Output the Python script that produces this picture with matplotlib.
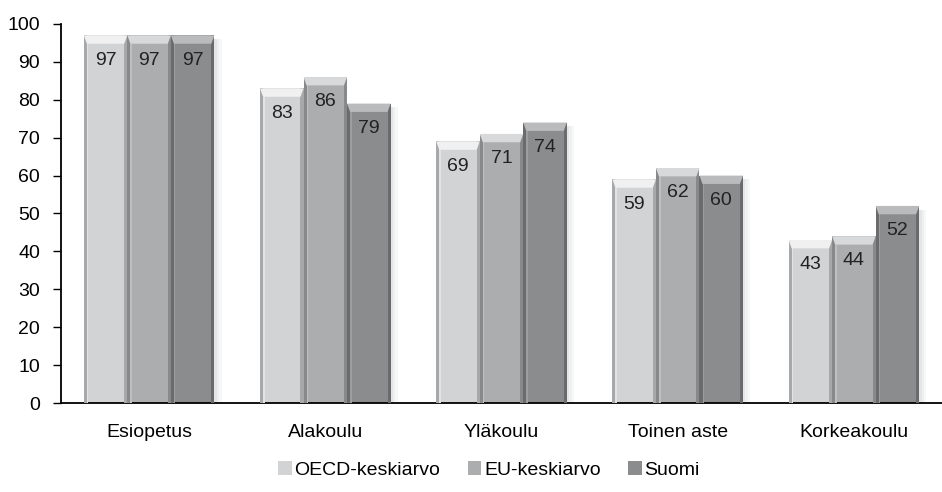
import matplotlib
matplotlib.use("Agg")
import matplotlib.pyplot as plt
from matplotlib.patches import Polygon, Rectangle
import numpy as np

plt.rcParams['font.family'] = ['Liberation Sans', 'DejaVu Sans']

categories = ["Esiopetus", "Alakoulu", "Yläkoulu", "Toinen aste", "Korkeakoulu"]
series_names = ["OECD-keskiarvo", "EU-keskiarvo", "Suomi"]
oecd = [97, 83, 69, 59, 43]
eu = [97, 86, 71, 62, 44]
suomi = [97, 79, 74, 60, 52]
yticks = list(range(0, 101, 10))

series = [oecd, eu, suomi]
colors = ["#d2d3d4", "#abadaf", "#8a8c8e"]
edge_dark = ["#a6a8aa", "#87898b", "#696b6d"]
inner_light = ["#e2e3e4", "#bdbfc1", "#9c9ea0"]
bevel_light = ["#f0f0f1", "#d8d9da", "#babbbc"]

fig = plt.figure(figsize=(9.42, 4.92), dpi=100)
ax = fig.add_axes([61 / 942, 1 - 403 / 492, 881 / 942, 379 / 492])

x = np.arange(len(categories))
w = 0.247
offsets = [-w, 0, w]

handles = []
for k, (vals, off, c, ed, il, bl, name) in enumerate(
        zip(series, offsets, colors, edge_dark, inner_light, bevel_light, series_names)):
    bars = ax.bar(x + off, vals, width=w, color=c, edgecolor="none", zorder=2, label=name)
    handles.append(bars)
    for b, v in zip(bars, vals):
        x0, bw, h = b.get_x(), b.get_width(), b.get_height()
        sx = bw * 0.07
        sy = 2.2
        # soft drop shadow to the right of each group
        if k == len(series) - 1:
            for i, a in enumerate([0.10, 0.06, 0.03]):
                ax.add_patch(Rectangle((x0 + bw + i * sx * 0.8, 0), sx * 0.8, h - 1,
                                       color="#000000", alpha=a, zorder=1, lw=0))
        # side shading
        ax.add_patch(Rectangle((x0, 0), sx, h, color=ed, zorder=3, lw=0))
        ax.add_patch(Rectangle((x0 + bw - sx, 0), sx, h, color=ed, zorder=3, lw=0))
        ax.add_patch(Rectangle((x0 + sx, 0), sx * 0.5, h - sy, color=il, zorder=3, lw=0))
        # bevelled top
        ax.add_patch(Polygon([(x0, h), (x0 + bw, h), (x0 + bw - sx, h - sy), (x0 + sx, h - sy)],
                             closed=True, color=bl, zorder=4, lw=0))
        ax.text(x0 + bw / 2, h - 6.5, f"{v}", ha="center", va="center",
                fontsize=14, color="#222222", zorder=5)

ax.set_xlim(-0.5, len(categories) - 0.5)
ax.set_ylim(0, 100)
ax.set_yticks(yticks)
ax.tick_params(axis='y', direction='out', length=6, width=1, labelsize=14, pad=9)
ax.set_xticks(x)
ax.set_xticklabels(categories, fontsize=14)
ax.tick_params(axis='x', length=0, pad=15)

for s in ["top", "right"]:
    ax.spines[s].set_visible(False)
ax.spines["left"].set_linewidth(1.3)
ax.spines["bottom"].set_linewidth(1.3)

leg = fig.legend(handles=handles, labels=series_names, loc="center",
                 bbox_to_anchor=(489 / 942, 1 - 470 / 492), ncol=3, frameon=False,
                 fontsize=14, handlelength=0.7, handleheight=0.7, handletextpad=0.15,
                 columnspacing=1.4)

fig.savefig("out.png", dpi=100)
